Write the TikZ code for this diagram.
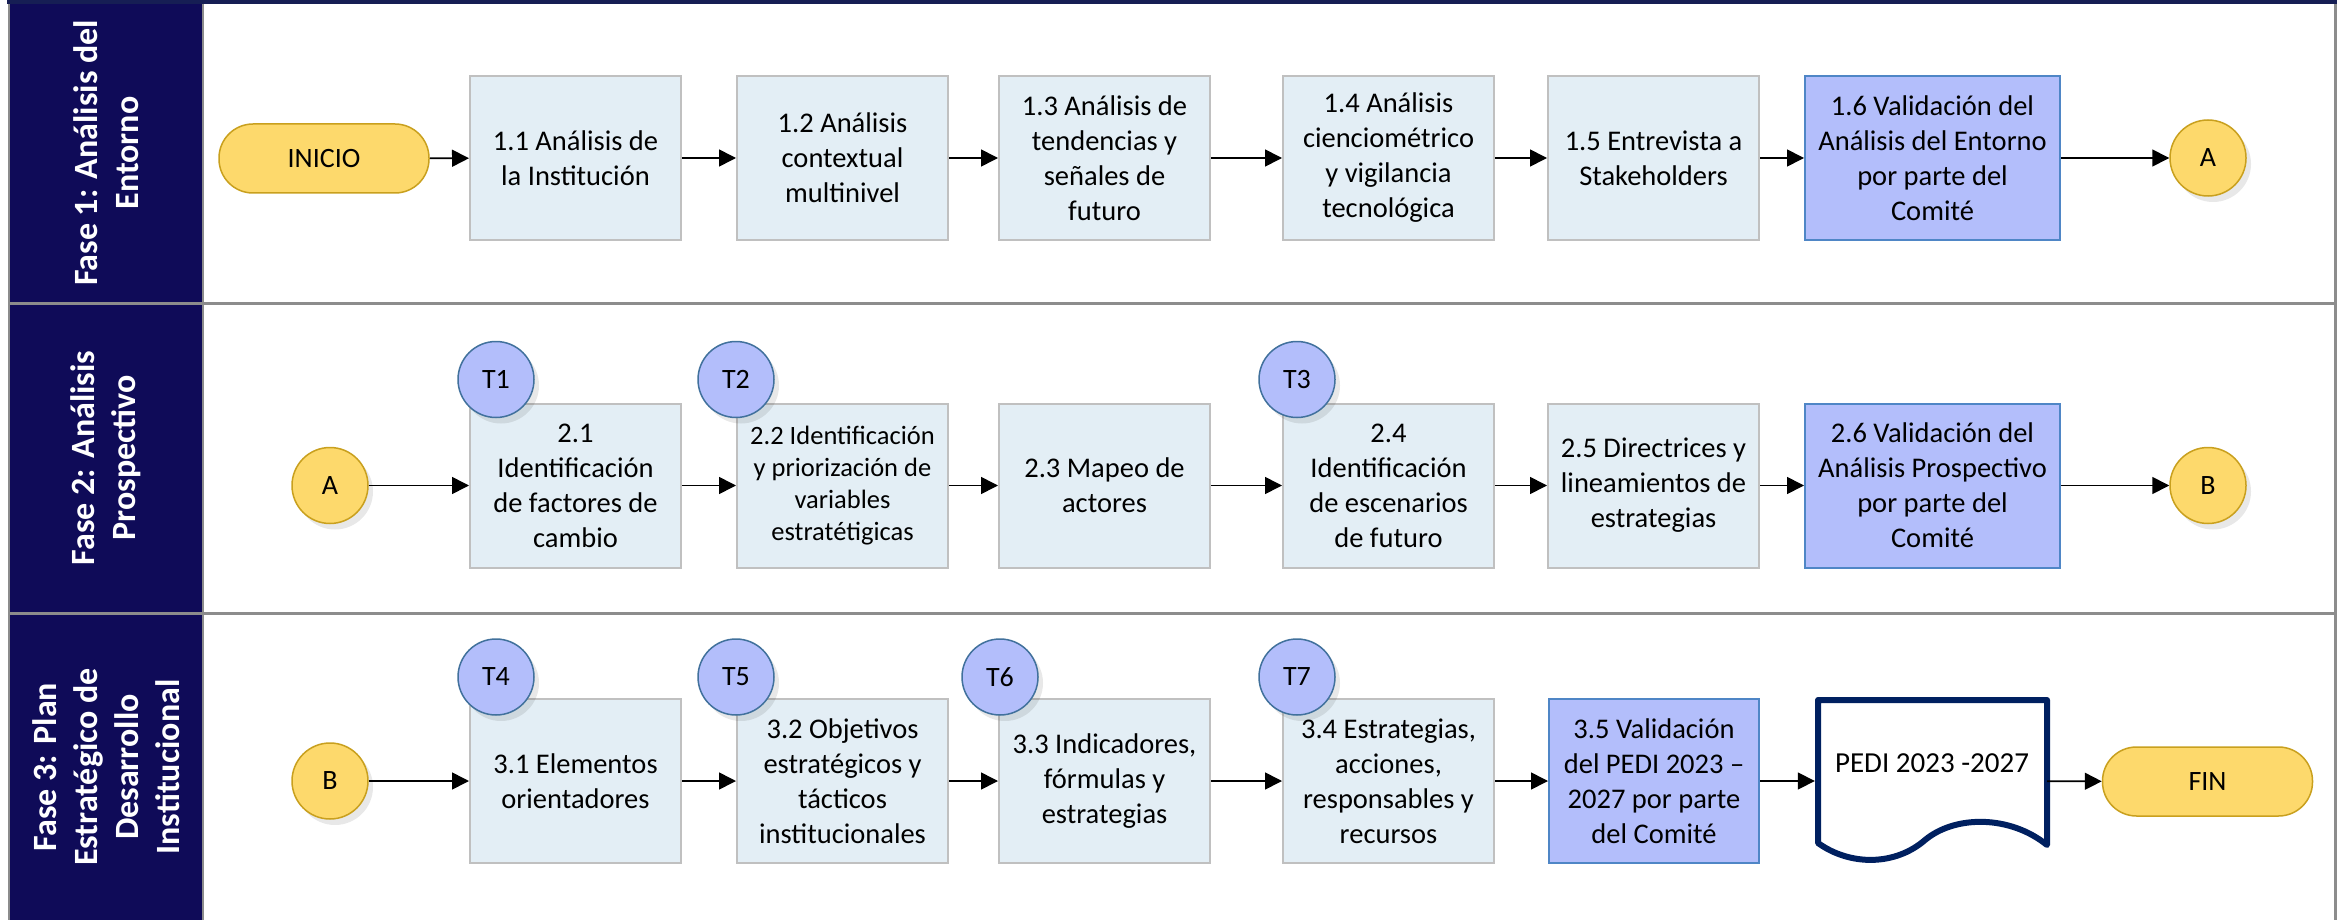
\documentclass[tikz,border=0pt]{standalone}
\usepackage{fontspec}
\setmainfont{Carlito}
\usetikzlibrary{arrows.meta,shadows}
\definecolor{navy}{RGB}{15,11,88}
\definecolor{topnavy}{RGB}{22,30,84}
\definecolor{framegray}{RGB}{140,140,140}
\definecolor{boxfill}{RGB}{227,238,245}
\definecolor{boxline}{RGB}{192,192,192}
\definecolor{valfill}{RGB}{179,190,251}
\definecolor{valline}{RGB}{79,134,198}
\definecolor{tline}{RGB}{65,113,156}
\definecolor{yel}{RGB}{253,217,108}
\definecolor{yelline}{RGB}{201,160,30}
\definecolor{docline}{RGB}{0,32,96}
\begin{document}
\begin{tikzpicture}[x=1pt,y=-1pt,
  boxtxt/.style={font=\fontsize{28.5}{35}\selectfont, align=center},
  stepbox/.style={boxtxt, draw=boxline, line width=2pt, fill=boxfill, minimum width=211pt, minimum height=164pt, inner sep=0pt},
  valbox/.style={stepbox, draw=valline, fill=valfill},
  shad/.style={drop shadow={shadow xshift=5pt, shadow yshift=-6pt, opacity=0.09, fill=black}},
  tcirc/.style={circle, shad, draw=tline, line width=1.5pt, fill=valfill, minimum size=76pt, inner sep=0pt, font=\fontsize{28}{34}\selectfont},
  ycirc/.style={circle, shad, draw=yelline, line width=1.5pt, fill=yel, minimum size=76pt, inner sep=0pt, font=\fontsize{28}{34}\selectfont},
  term/.style={rectangle, rounded corners=34pt, draw=yelline, line width=1.5pt, fill=yel, minimum width=210pt, minimum height=69pt, inner sep=0pt, font=\fontsize{28}{34}\selectfont},
  lanetxt/.style={rotate=90, text=white, align=center, font=\bfseries\fontsize{34}{41}\selectfont},
  conn/.style={line width=1.6pt, -{Triangle[length=17pt,width=17pt]}}
]
\useasboundingbox (0,0) rectangle (2344,920);
% frame and lanes
\fill[white] (9,2) rectangle (2335,920);
\fill[navy] (9,2) rectangle (203,920);
\draw[framegray, line width=3pt] (9,303) -- (2335,303);
\draw[framegray, line width=3pt] (9,613) -- (2335,613);
\draw[framegray, line width=2.5pt] (203,2) -- (203,920);
\draw[framegray, line width=2.5pt] (9,2) -- (9,920);
\draw[framegray, line width=3pt] (2335,2) -- (2335,920);
\draw[topnavy, line width=4.5pt] (7,2) -- (2337,2);
\node[lanetxt] (h1) at (106,153) {Fase 1: Análisis del\\Entorno};
\node[lanetxt] (h2) at (106,458) {Fase 2: Análisis\\Prospectivo};
\node[lanetxt] (h3) at (106,767) {Fase 3: Plan\\Estratégico de\\Desarrollo\\Institucional};

% lane 1
\node[term] (ini) at (324,158.5) {INICIO};
\node[stepbox] (n11) at (575.5,158) {1.1 Análisis de\\la Institución};
\node[stepbox] (n12) at (842.5,158) {1.2 Análisis\\contextual\\multinivel};
\node[stepbox] (n13) at (1104.5,158) {1.3 Análisis de\\tendencias y\\señales de\\futuro};
\node[stepbox] (n14) at (1388.5,158) {1.4 Análisis\\cienciométrico\\y vigilancia\\tecnológica};
\node[stepbox] (n15) at (1653.5,158) {1.5 Entrevista a\\Stakeholders};
\node[valbox, minimum width=255pt] (n16) at (1932.5,158) {1.6 Validación del\\Análisis del Entorno\\por parte del\\Comité};
\node[ycirc] (ea) at (2208,158) {A};
\draw[conn] (ini) -- (n11);
\draw[conn] (n11) -- (n12);
\draw[conn] (n12) -- (n13);
\draw[conn] (n13) -- (n14);
\draw[conn] (n14) -- (n15);
\draw[conn] (n15) -- (n16);
\draw[conn] (n16) -- (ea);

% lane 2
\node[ycirc] (sa) at (330,485.5) {A};
\node[stepbox] (n21) at (575.5,485.5) {2.1\\Identificación\\de factores de\\cambio};
\node[stepbox, font=\fontsize{26.5}{32}\selectfont] (n22) at (842.5,485.5) {2.2 Identificación\\y priorización de\\variables\\estratétigicas};
\node[stepbox] (n23) at (1104.5,485.5) {2.3 Mapeo de\\actores};
\node[stepbox] (n24) at (1388.5,485.5) {2.4\\Identificación\\de escenarios\\de futuro};
\node[stepbox] (n25) at (1653.5,485.5) {2.5 Directrices y\\lineamientos de\\estrategias};
\node[valbox, minimum width=255pt] (n26) at (1932.5,485.5) {2.6 Validación del\\Análisis Prospectivo\\por parte del\\Comité};
\node[ycirc] (eb) at (2208,485.5) {B};
\node[tcirc] (t1) at (496,379.5) {T1};
\node[tcirc] (t2) at (736,379.5) {T2};
\node[tcirc] (t3) at (1297,379.5) {T3};
\draw[conn] (sa) -- (n21);
\draw[conn] (n21) -- (n22);
\draw[conn] (n22) -- (n23);
\draw[conn] (n23) -- (n24);
\draw[conn] (n24) -- (n25);
\draw[conn] (n25) -- (n26);
\draw[conn] (n26) -- (eb);

% lane 3
\node[ycirc] (sb) at (330,781) {B};
\node[stepbox] (n31) at (575.5,781) {3.1 Elementos\\orientadores};
\node[stepbox] (n32) at (842.5,781) {3.2 Objetivos\\estratégicos y\\tácticos\\institucionales};
\node[stepbox] (n33) at (1104.5,781) {3.3 Indicadores,\\fórmulas y\\estrategias};
\node[stepbox] (n34) at (1388.5,781) {3.4 Estrategias,\\acciones,\\responsables y\\recursos};
\node[valbox, minimum width=210pt] (n35) at (1654,781) {3.5 Validación\\del PEDI 2023 –\\2027 por parte\\del Comité};
\node[tcirc] (t4) at (496,677) {T4};
\node[tcirc] (t5) at (736,677) {T5};
\node[tcirc] (t6) at (1000,677) {T6};
\node[tcirc] (t7) at (1297,677) {T7};
% document shape
\node[minimum width=229pt, minimum height=162pt, inner sep=0pt] (doc) at (1932.5,781) {};
\draw[docline, line width=6pt, line join=round, fill=white]
  (1818,843) -- (1818,700) -- (2047,700) -- (2047,845)
  .. controls (2010,815) and (1955,815) .. (1925,840)
  .. controls (1895,866) and (1850,866) .. (1818,843) -- cycle;
\node[boxtxt, font=\fontsize{29}{35}\selectfont] (doctxt) at (1932,763) {PEDI 2023 -2027};
\node[term] (fin) at (2207.5,781.5) {FIN};
\draw[conn] (sb) -- (n31);
\draw[conn] (n31) -- (n32);
\draw[conn] (n32) -- (n33);
\draw[conn] (n33) -- (n34);
\draw[conn] (n34) -- (n35);
\draw[conn, shorten >=3pt] (n35) -- (doc);
\draw[conn] (doc) -- (fin);
\end{tikzpicture}
\end{document}
